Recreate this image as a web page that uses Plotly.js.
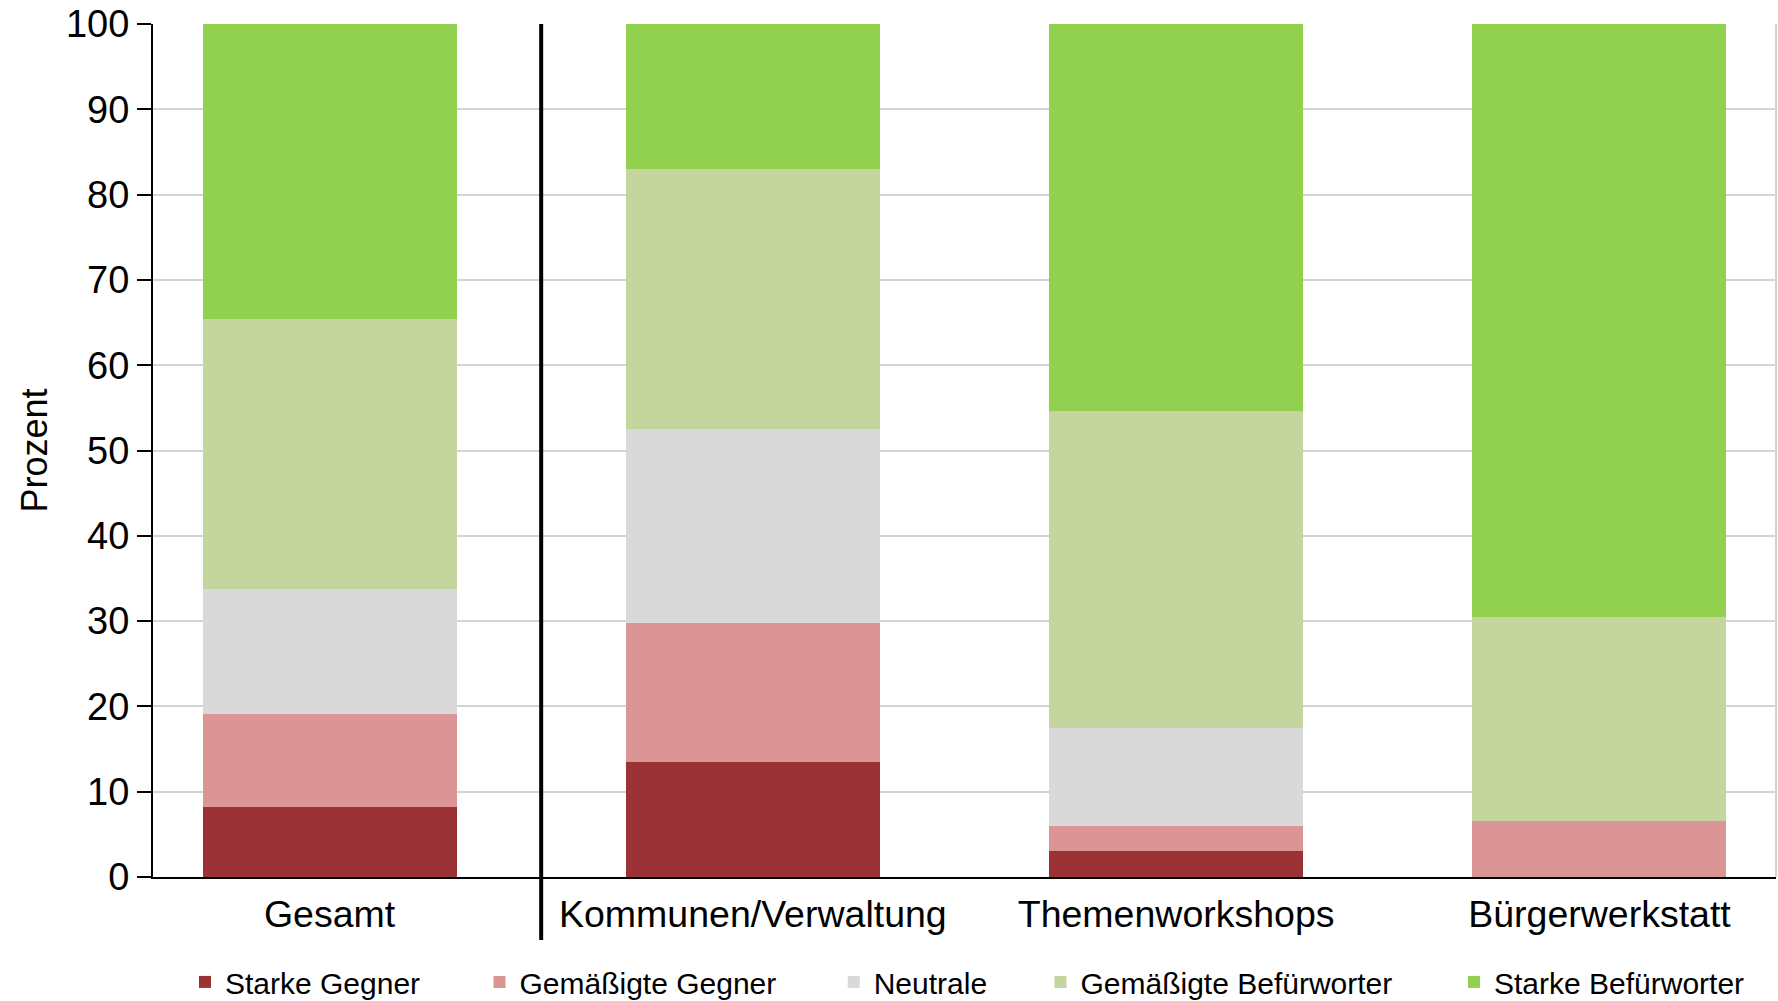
<!DOCTYPE html>
<html><head><meta charset="utf-8">
<script src="https://cdn.plot.ly/plotly-3.0.1.min.js"></script>
<style>html,body{margin:0;padding:0;background:#fff}</style>
</head><body><div id="chart" style="width:1778px;height:1001px"></div>
<script>
const categories = ["Gesamt", "Kommunen/Verwaltung", "Themenworkshops", "Bürgerwerkstatt"];
const seriesNames = ["Starke Gegner", "Gemäßigte Gegner", "Neutrale", "Gemäßigte Befürworter", "Starke Befürworter"];
const starkeGegner = [8.2, 13.5, 3.0, 0];
const gemaessigteGegner = [10.9, 16.3, 3.0, 6.6];
const neutrale = [14.7, 22.7, 11.5, 0];
const gemaessigteBefuerworter = [31.6, 30.5, 37.1, 23.9];
const starkeBefuerworter = [34.6, 17.0, 45.4, 69.5];
const seriesColors = ["#9B3336", "#DA9594", "#D9D9D9", "#C4D69E", "#92D050"];
const yTickValues = [0, 10, 20, 30, 40, 50, 60, 70, 80, 90, 100];
const yTitle = "Prozent";

const seriesValues = [starkeGegner, gemaessigteGegner, neutrale, gemaessigteBefuerworter, starkeBefuerworter];
const legendIds = ["legend", "legend2", "legend3", "legend4", "legend5"];

const FONT = "Liberation Sans, Arial, sans-serif";

const traces = seriesNames.map((name, i) => ({
  type: "bar",
  name: name,
  x: categories,
  y: seriesValues[i],
  width: 0.6,
  marker: {color: seriesColors[i], line: {width: 0}},
  legend: legendIds[i],
  hoverinfo: "x+y+name"
}));

// plot area spans 153..1776 px horizontally
const plotLeft = 153, plotWidth = 1623;
const legendTextStarts = [225, 519.5, 873.7, 1080.5, 1494];

const layout = {
  width: 1778,
  height: 1001,
  margin: {l: 153, r: 2, t: 24, b: 124, pad: 0, autoexpand: false},
  paper_bgcolor: "#ffffff",
  plot_bgcolor: "#ffffff",
  font: {family: FONT, color: "#000000", size: 30},
  barmode: "stack",
  bargap: 0.4,
  xaxis: {
    type: "category",
    range: [-0.417, 3.417],
    showgrid: false,
    showline: true,
    linecolor: "#000000",
    linewidth: 2,
    ticks: "",
    tickfont: {family: FONT, size: 37.5, color: "#000000"},
    ticklabelstandoff: 3,
    automargin: false,
    fixedrange: true
  },
  yaxis: {
    range: [0, 100],
    tickvals: yTickValues,
    ticktext: yTickValues.map(String),
    showgrid: true,
    gridcolor: "#D3D3D3",
    gridwidth: 2,
    zeroline: false,
    showline: true,
    linecolor: "#000000",
    linewidth: 2,
    ticks: "outside",
    ticklen: 14,
    tickwidth: 2,
    tickcolor: "#000000",
    tickfont: {family: FONT, size: 38, color: "#000000"},
    ticklabelstandoff: 0,
    title: {text: yTitle, font: {family: FONT, size: 36, color: "#000000"}, standoff: 7},
    automargin: false,
    fixedrange: true
  },
  shapes: [
    {type: "line", xref: "paper", yref: "y", x0: 1, x1: 1, y0: 0, y1: 100,
     line: {color: "#D3D3D3", width: 2}, layer: "below"},
    {type: "line", xref: "x", yref: "paper", x0: 0.5, x1: 0.5, y0: -0.074, y1: 1,
     line: {color: "#000000", width: 4}, layer: "above"}
  ],
  showlegend: true
};

legendIds.forEach((id, i) => {
  layout[id] = {
    x: (legendTextStarts[i] - 40 - plotLeft) / plotWidth,
    y: -0.123,
    xanchor: "left",
    yanchor: "middle",
    orientation: "h",
    bgcolor: "rgba(0,0,0,0)",
    borderwidth: 0,
    font: {family: FONT, size: 30, color: "#000000"}
  };
});

Plotly.newPlot("chart", traces, layout, {displayModeBar: false, staticPlot: true});
</script>
</body></html>
